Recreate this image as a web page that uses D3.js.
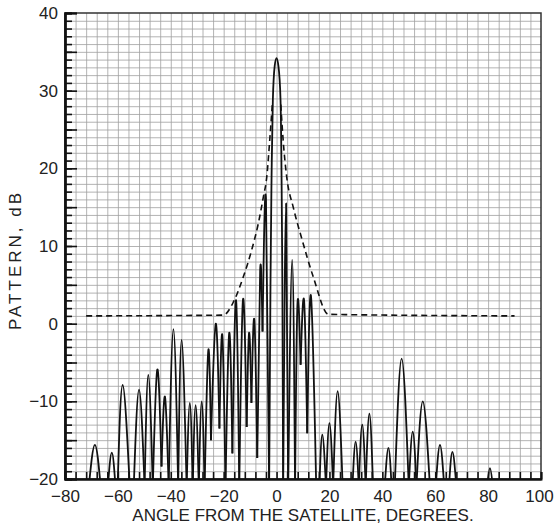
<!DOCTYPE html>
<html>
<head>
<meta charset="utf-8">
<script src="https://d3js.org/d3.v7.min.js"></script>
<style>
  body { margin: 0; background: #fff; }
  text { font-family: "Liberation Sans", Arial, sans-serif; fill: #222; }
</style>
</head>
<body>
<div id="chart"></div>
<script>
// pattern curve: peaks and nulls, degrees / dB
// (nulls below -20 are clipped by the frame)
var angle = [-71.0, -68.7, -66.5, -63.8, -62.3, -60.9, -60.1, -58.2, -55.5, -54.0,
  -52.0, -49.9, -48.5, -46.8, -45.1, -43.5, -42.2, -40.8, -39.0, -37.2,
  -35.9, -34.0, -32.8, -31.7, -30.6, -29.4, -28.3, -27.2, -25.8, -24.8,
  -23.0, -21.6, -20.5, -19.3, -17.9, -16.7, -15.3, -14.1, -12.7, -11.3,
  -10.4, -9.5, -8.4, -7.3, -6.2, -5.3, -4.0, -2.8,
  -2.3, -1.9, -1.4, -0.7, 0, 0.7, 1.5, 1.9, 2.2, 2.5,
  3.6, 4.4, 5.9, 7.0, 7.9, 9.1, 10.4, 11.6, 13.0, 15.0,
  16.2, 17.3, 18.7, 20.0, 21.4, 23.1, 25.0, 28.7, 29.9, 31.1,
  32.4, 33.7, 35.1, 36.5, 40.9, 42.3, 43.5, 44.7, 47.3, 50.0,
  51.5, 52.9, 55.3, 58.0, 60.2, 61.8, 63.4, 65.2, 66.5, 68.0,
  79.6, 80.7, 81.8, 90];
var patternDb = [-21, -15.6, -21, -21, -16.6, -21, -21, -7.9, -21, -21,
  -8.5, -21, -6.6, -21, -5.9, -18.4, -9.4, -21, -0.7, -21,
  -2.1, -21, -10.2, -21, -10.5, -21, -10.0, -21, -3.4, -15.0,
  0.0, -13.5, -1.5, -21, -1.2, -16.7, 3.0, -21, 3.1, -13.3,
  -1.2, -10.2, 0.5, -17.3, 6.9, -1.0, 16.0, -21,
  5, 18.5, 28.8, 33.2, 34.2, 33.2, 28.8, 18.5, 5, -21,
  15.5, -21, 8.2, -21, 2.5, -5.3, 3.0, -14.1, 3.6, -21,
  -21, -14.3, -21, -12.8, -21, -8.7, -21, -21, -15.2, -21,
  -13.0, -21, -11.6, -21, -21, -16.0, -21, -21, -4.5, -21,
  -13.9, -21, -10.0, -21, -21, -15.6, -21, -21, -16.5, -21,
  -21, -18.6, -21, -21];

// dashed limit line (null = gap across the main lobe)
var maskAngle = [-72, -20.1, -16.3, -12.6, -9.4, -6.9, -5.0, -3.7, -2.5, -1.6,
  0, 1.6, 2.5, 3.8, 6.3, 9.5, 13.9, 19.6, 90];
var maskDb = [1.0, 1.1, 2.8, 6.0, 9.5, 12.9, 16.3, 18.9, 24.0, 28.2,
  null, 28.2, 23.6, 19.0, 15.0, 11.0, 6.0, 1.2, 1.0];

var xTicks = [-80, -60, -40, -20, 0, 20, 40, 60, 80, 100];
var yTicks = [-20, -10, 0, 10, 20, 30, 40];

var margin = {top: 13, right: 13, bottom: 45, left: 65},
    width = 554 - margin.left - margin.right,
    height = 524 - margin.top - margin.bottom;

var svg = d3.select("#chart").append("svg")
    .attr("width", 554)
    .attr("height", 524)
  .append("g")
    .attr("transform", "translate(" + margin.left + "," + margin.top + ")");

var x = d3.scaleLinear().domain([-80, 100]).range([0, width]);
var y = d3.scaleLinear().domain([-20, 40]).range([height, 0]);

// grid
svg.append("g")
    .attr("class", "grid")
    .call(d3.axisBottom(x).tickValues(d3.range(-76, 100, 4)).tickSize(height).tickFormat(""))
    .call(function(g) { g.select(".domain").remove(); });
svg.append("g")
    .attr("class", "grid")
    .call(d3.axisLeft(y).tickValues(d3.range(-19, 40, 1)).tickSize(-width).tickFormat(""))
    .call(function(g) { g.select(".domain").remove(); });
svg.selectAll(".grid line").attr("stroke", "#a0a0a0").attr("stroke-width", 0.8);

// frame
svg.append("rect")
    .attr("width", width).attr("height", height)
    .attr("fill", "none").attr("stroke", "#333").attr("stroke-width", 1.5);

// clip for the curve
svg.append("clipPath").attr("id", "clip")
  .append("rect").attr("width", width).attr("height", height);

// split the curve at every null so each lobe is its own arch
var pts = angle.map(function(a, i) { return [a, patternDb[i]]; });
var lobes = [], cur = [pts[0]];
for (var i = 1; i < pts.length; i++) {
  cur.push(pts[i]);
  var isMin = i === pts.length - 1 ||
      (pts[i][1] <= pts[i - 1][1] && pts[i][1] <= pts[i + 1][1]);
  if (isMin) { lobes.push(cur); cur = [pts[i]]; }
}

var line = d3.line()
    .x(function(d) { return x(d[0]); })
    .y(function(d) { return y(d[1]); })
    .curve(d3.curveNatural);

svg.append("g")
    .attr("clip-path", "url(#clip)")
  .selectAll("path")
  .data(lobes)
  .enter().append("path")
    .attr("fill", "none")
    .attr("stroke", "#111")
    .attr("stroke-width", 1.8)
    .attr("stroke-linejoin", "round")
    .attr("d", line);

var maskPts = maskAngle.map(function(a, i) { return [a, maskDb[i]]; });
svg.append("path")
    .datum(maskPts)
    .attr("fill", "none")
    .attr("stroke", "#111")
    .attr("stroke-width", 1.6)
    .attr("stroke-dasharray", "6,4")
    .attr("d", d3.line()
      .defined(function(d) { return d[1] != null; })
      .x(function(d) { return x(d[0]); })
      .y(function(d) { return y(d[1]); })
      .curve(d3.curveMonotoneX));

// left axis: minor ticks every dB, longer every 5, labels every 10
var yMinor = svg.append("g")
    .call(d3.axisLeft(y).tickValues(d3.range(-20, 41, 1)).tickSize(-7).tickFormat(""));
var yMajor = svg.append("g")
    .call(d3.axisLeft(y).tickValues(d3.range(-20, 41, 5)).tickSize(-12).tickFormat(""));
var yLab = svg.append("g")
    .call(d3.axisLeft(y).tickValues(yTicks).tickSize(0).tickPadding(7));
[yMinor, yMajor, yLab].forEach(function(g) {
  g.selectAll("line").attr("stroke", "#111").attr("stroke-width", 1.6);
  g.select(".domain").attr("stroke", "#111").attr("stroke-width", 2);
});
yLab.selectAll("text").style("font-size", "17px").attr("fill", "#222");

// bottom axis: ticks every 4 degrees, labels every 20
var xMinor = svg.append("g")
    .attr("transform", "translate(0," + height + ")")
    .call(d3.axisBottom(x).tickValues(d3.range(-80, 101, 4)).tickSize(-7).tickFormat(""));
var xLab = svg.append("g")
    .attr("transform", "translate(0," + height + ")")
    .call(d3.axisBottom(x).tickValues(xTicks).tickSize(0).tickPadding(11));
[xMinor, xLab].forEach(function(g) {
  g.selectAll("line").attr("stroke", "#111").attr("stroke-width", 1.6);
  g.select(".domain").attr("stroke", "#111").attr("stroke-width", 2);
});
xLab.selectAll("text").style("font-size", "17px").attr("fill", "#222");
// last label sits against the right edge
xLab.selectAll("text").filter(function(d) { return d === 100; }).attr("dx", "-2");

// axis titles
svg.append("text")
    .attr("x", width / 2)
    .attr("y", height + 42)
    .attr("text-anchor", "middle")
    .style("font-size", "17px")
    .text("ANGLE FROM THE SATELLITE, DEGREES.");

svg.append("text")
    .attr("transform", "rotate(-90)")
    .attr("x", -(260 - margin.top))
    .attr("y", -margin.left + 21)
    .attr("text-anchor", "middle")
    .style("font-size", "17px")
    .style("letter-spacing", "3px")
    .text("PATTERN, dB");
</script>
</body>
</html>
